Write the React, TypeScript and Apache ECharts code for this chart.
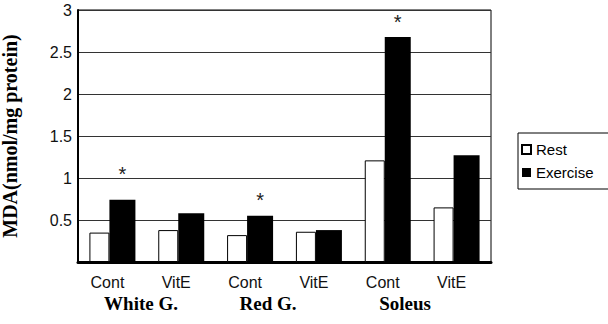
import React, { useEffect, useRef } from "react";
import * as echarts from "echarts";

const categories = ["Cont", "VitE", "Cont", "VitE", "Cont", "VitE"];
const groupLabels = ["White G.", "Red G.", "Soleus"];
const restValues = [0.35, 0.38, 0.32, 0.36, 1.21, 0.65];
const exerciseValues = [0.74, 0.58, 0.55, 0.38, 2.68, 1.27];
const exerciseSignificant = [true, false, true, false, true, false];
const yTickLabels = ["", "0.5", "1", "1.5", "2", "2.5", "3"];

const groupLabelX = [141, 268, 405];
const starDistance = [16, 6, 5];

export default function App() {
  const ref = useRef<HTMLDivElement>(null);
  useEffect(() => {
    if (!ref.current) return;
    const chart = echarts.init(ref.current, null, { renderer: "svg" });
    let sigIdx = 0;
    const exData = exerciseValues.map((v, i) => {
      if (!exerciseSignificant[i]) return { value: v };
      const d = starDistance[sigIdx++];
      return {
        value: v,
        label: {
          show: true,
          formatter: "*",
          position: "top",
          distance: d,
          fontSize: 20,
          fontFamily: "Liberation Sans",
          color: "#222",
        },
      };
    });
    chart.setOption({
      animation: false,
      backgroundColor: "#fff",
      grid: {
        left: 78,
        right: 117,
        top: 10,
        bottom: 62,
        outerBoundsMode: "none",
        containLabel: false,
        show: true,
        borderColor: "#000",
        borderWidth: 1,
      },
      legend: {
        orient: "vertical",
        left: 518,
        top: 133,
        padding: [9, 30, 9, 3],
        itemGap: 8,
        itemWidth: 9,
        itemHeight: 9,
        borderColor: "#000",
        borderWidth: 1,
        borderRadius: 0,
        textStyle: { fontFamily: "Liberation Sans", fontSize: 15, color: "#000" },
        data: [
          { name: "Rest", icon: "rect" },
          { name: "Exercise", icon: "rect" },
        ],
      },
      xAxis: {
        type: "category",
        data: categories,
        axisLine: { lineStyle: { color: "#000", width: 3 } },
        axisTick: { show: false },
        axisLabel: {
          fontFamily: "Liberation Sans",
          fontSize: 16,
          color: "#111",
          margin: 12,
          padding: [0, 10, 0, 0],
        },
      },
      yAxis: {
        type: "value",
        min: 0,
        max: 3,
        interval: 0.5,
        name: "MDA(nmol/mg protein)",
        nameLocation: "middle",
        nameRotate: 90,
        nameGap: 58,
        nameTextStyle: {
          fontFamily: "Liberation Serif",
          fontWeight: "bold",
          fontSize: 20,
          color: "#000",
        },
        axisLine: { show: true, lineStyle: { color: "#000", width: 2 } },
        axisTick: { show: false },
        axisLabel: {
          fontFamily: "Liberation Sans",
          fontSize: 16,
          color: "#111",
          margin: 6,
          formatter: (v: number) => yTickLabels[Math.round(v * 2)] ?? "",
        },
        splitLine: { show: true, lineStyle: { color: "#333", width: 1 } },
      },
      series: [
        {
          name: "Rest",
          type: "bar",
          data: restValues,
          barWidth: 20,
          barGap: "0%",
          itemStyle: { color: "#fff", borderColor: "#000", borderWidth: 1 },
        },
        {
          name: "Exercise",
          type: "bar",
          data: exData,
          barWidth: 26,
          barGap: "0%",
          itemStyle: { color: "#000" },
        },
      ],
      graphic: groupLabels.map((t, i) => ({
        type: "text",
        x: groupLabelX[i],
        y: 303,
        style: {
          text: t,
          fontFamily: "Liberation Serif",
          fontWeight: "bold",
          fontSize: 19,
          fill: "#000",
          textAlign: "center",
          textVerticalAlign: "middle",
        },
      })),
    });
    return () => chart.dispose();
  }, []);
  return (
    <div
      ref={ref}
      style={{ position: "fixed", left: 0, top: 0, width: 608, height: 324 }}
    />
  );
}
